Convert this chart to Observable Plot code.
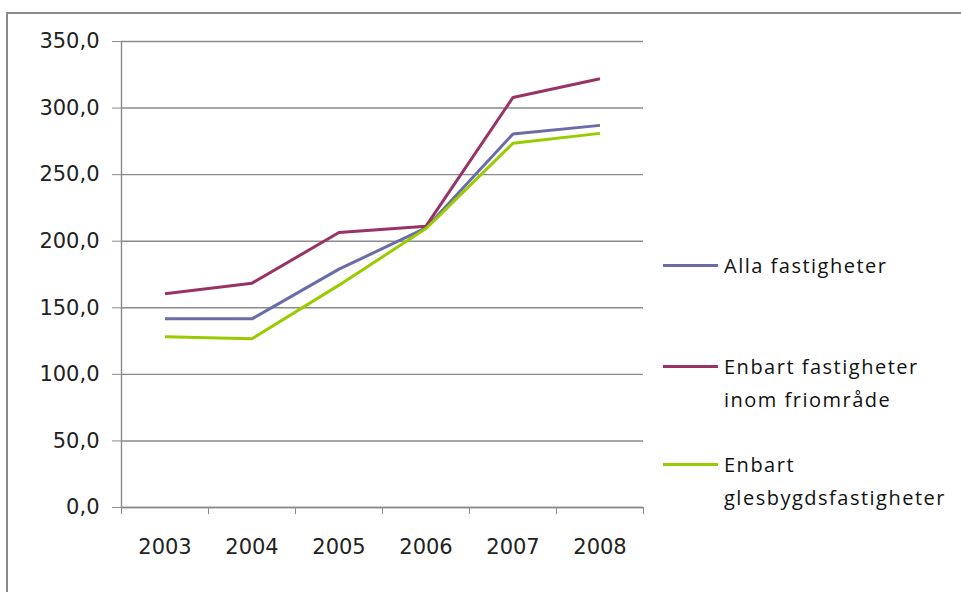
<!DOCTYPE html>
<html>
<head>
<meta charset="utf-8">
<script src="https://cdn.jsdelivr.net/npm/d3@7"></script>
<script src="https://cdn.jsdelivr.net/npm/@observablehq/plot@0.6"></script>
<style>
  html, body { margin: 0; padding: 0; background: #fff; }
  #wrap { position: relative; width: 961px; height: 592px; overflow: hidden; }
  #frame { position: absolute; left: 6px; top: 12px; width: 1000px; height: 700px;
           border-top: 2px solid #8a8a8a; border-left: 2px solid #8a8a8a; box-sizing: border-box; }
  #chart { position: absolute; left: 0; top: 0; }
  #legend { position: absolute; left: 663px; top: 0; font-family: "Open Sans", sans-serif;
            font-size: 20px; letter-spacing: 1.5px; color: #111; }
  .item { position: absolute; left: 0; display: flex; align-items: flex-start; white-space: nowrap; }
  .swatch { width: 55px; height: 3px; margin-top: 15px; margin-right: 6px; }
  .label { line-height: 33px; }
</style>
</head>
<body>
<div id="wrap">
  <div id="frame"></div>
  <div id="chart"></div>
  <div id="legend"></div>
</div>
<script>
// Index series per year
const years = [2003, 2004, 2005, 2006, 2007, 2008];
const alla = [141.7, 141.7, 179, 210, 280.6, 287];
const friomrade = [160.5, 168.5, 206.5, 211.3, 308, 322];
const glesbygd = [128.2, 126.7, 167, 209.5, 273.6, 281];

const seriesNames = ["Alla fastigheter", "Enbart fastigheter\ninom friområde", "Enbart\nglesbygdsfastigheter"];
const seriesValues = [alla, friomrade, glesbygd];
const seriesColors = ["#6b6ba8", "#993366", "#99cc00"];
const yTicks = [0, 50, 100, 150, 200, 250, 300, 350];

const rows = seriesNames.flatMap((name, i) =>
  years.map((year, j) => ({series: name, year, value: seriesValues[i][j]})));

const bounds = [...years.map(y => y - 0.5), years[years.length - 1] + 0.5];
const axisGrey = "#8a8a8a";

const chart = Plot.plot({
  width: 961,
  height: 592,
  marginLeft: 121,
  marginRight: 318,
  marginTop: 41,
  marginBottom: 85,
  style: {fontFamily: "'DejaVu Sans', sans-serif", fontSize: "21px", color: "#222", background: "transparent"},
  x: {domain: [bounds[0], bounds[bounds.length - 1]]},
  y: {domain: [0, 350]},
  color: {domain: seriesNames, range: seriesColors},
  marks: [
    Plot.gridY(yTicks, {stroke: axisGrey, strokeOpacity: 1, strokeWidth: 1.4}),
    Plot.ruleX([bounds[0]], {y1: 0, y2: 350, stroke: axisGrey, strokeWidth: 1.4}),
    Plot.ruleY([0], {stroke: axisGrey, strokeWidth: 1.4}),
    Plot.axisY({ticks: yTicks, tickSize: 9, tickPadding: 13, stroke: axisGrey,
      tickFormat: d => d.toFixed(1).replace(".", ","), label: null}),
    Plot.axisX({ticks: bounds, tickSize: 7, tickFormat: () => "", stroke: axisGrey, label: null}),
    Plot.axisX({ticks: years, tickSize: 0, tickPadding: 32, tickFormat: d => String(d), label: null}),
    Plot.line(rows, {x: "year", y: "value", z: "series", stroke: "series", strokeWidth: 3,
      strokeLinejoin: "miter", strokeLinecap: "butt"})
  ]
});
document.getElementById("chart").append(chart);

// Legend entries beside the plot
const legendTops = [249, 350, 448];
const legend = document.getElementById("legend");
seriesNames.forEach((name, i) => {
  const item = document.createElement("div");
  item.className = "item";
  item.style.top = legendTops[i] + "px";
  const sw = document.createElement("div");
  sw.className = "swatch";
  sw.style.background = seriesColors[i];
  const lab = document.createElement("div");
  lab.className = "label";
  lab.innerHTML = name.split("\n").join("<br>");
  item.append(sw, lab);
  legend.append(item);
});
</script>
</body>
</html>
